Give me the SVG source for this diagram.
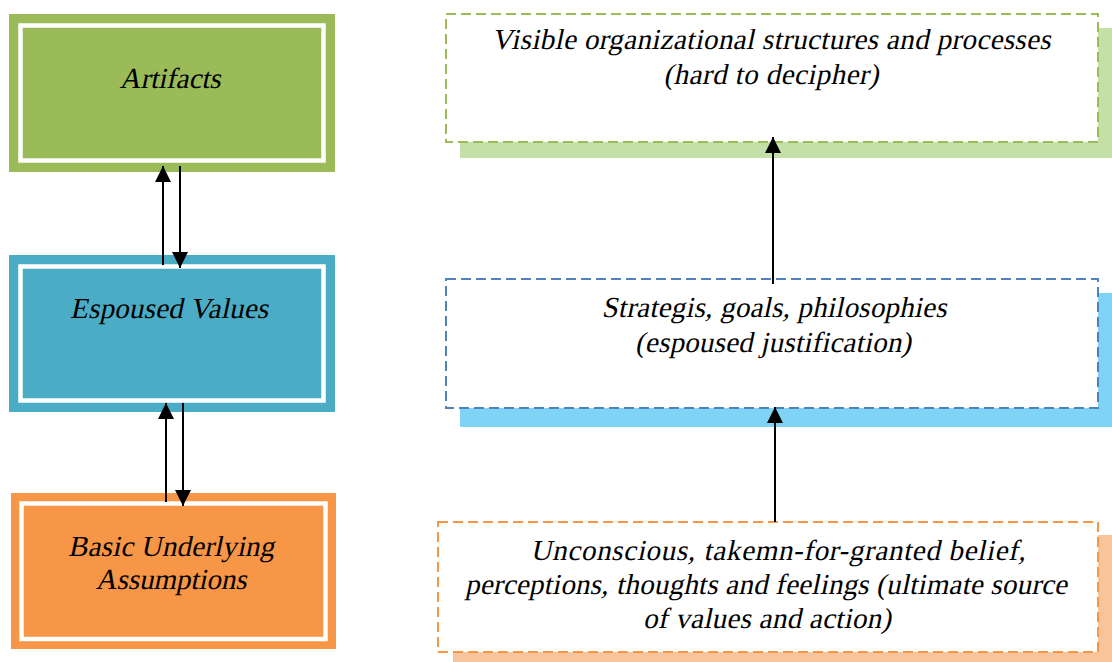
<svg xmlns="http://www.w3.org/2000/svg" width="1112" height="662" viewBox="0 0 1112 662">
  <defs>
    <marker id="head" viewBox="0 0 16 16" refX="16" refY="8" markerWidth="16" markerHeight="16" markerUnits="userSpaceOnUse" orient="auto">
      <path d="M0,0 L16,8 L0,16 Z" fill="#000"/>
    </marker>
    <style>
      /* serif labels, slanted by a skew so they read as italic */
      .lbl { font-family: 'Liberation Serif', 'Times New Roman', serif; font-style: normal; font-size: 29px; fill: #000; text-anchor: middle; }
      .inner { fill: none; stroke: #fff; stroke-width: 4.5; }
      .dash { fill: #fff; stroke-width: 2; stroke-dasharray: 10 5; }
      .link { stroke: #000; stroke-width: 2; fill: none; marker-end: url(#head); }
    </style>
  </defs>
  <rect width="1112" height="662" fill="#fff"/>

  <!-- Left column: culture levels -->
  <g id="artifacts">
    <rect x="9" y="14" width="326" height="158" fill="#9bbb59"/>
    <rect class="inner" x="20.5" y="25.5" width="303" height="135"/>
    <text class="lbl" transform="translate(170 88) skewX(-12)" textLength="101">Artifacts</text>
  </g>
  <g id="espoused-values">
    <rect x="9" y="255" width="326" height="157" fill="#4bacc6"/>
    <rect class="inner" x="20.5" y="266.5" width="303" height="134"/>
    <text class="lbl" transform="translate(169 318) skewX(-12)" textLength="198">Espoused Values</text>
  </g>
  <g id="basic-assumptions">
    <rect x="11" y="493" width="325" height="156" fill="#f79646"/>
    <rect class="inner" x="21.5" y="503.5" width="304" height="135.5"/>
    <text class="lbl" transform="translate(171 556) skewX(-12)" textLength="206">Basic Underlying</text>
    <text class="lbl" transform="translate(171 589) skewX(-12)" textLength="151">Assumptions</text>
  </g>

  <!-- Right column: descriptions with offset shadows -->
  <g id="visible-structures">
    <rect x="460" y="28" width="652" height="130" fill="#c5e0a7"/>
    <rect class="dash" x="446" y="14" width="652" height="128" stroke="#9bbb59"/>
    <text class="lbl" transform="translate(771 49) skewX(-12)" textLength="559">Visible organizational structures and processes</text>
    <text class="lbl" transform="translate(771 84) skewX(-12)" textLength="215">(hard to decipher)</text>
  </g>
  <g id="strategies-goals">
    <rect x="460" y="293" width="652" height="134" fill="#7fd3f5"/>
    <rect class="dash" x="446" y="279" width="652" height="129" stroke="#4f81bd"/>
    <text class="lbl" transform="translate(774 317) skewX(-12)" textLength="345">Strategis, goals, philosophies</text>
    <text class="lbl" transform="translate(773 352) skewX(-12)" textLength="276">(espoused justification)</text>
  </g>
  <g id="unconscious-beliefs">
    <rect x="453" y="535" width="659" height="140" fill="#f8c49b"/>
    <rect class="dash" x="438" y="522" width="660" height="130" stroke="#f79646"/>
    <text class="lbl" transform="translate(778 560) skewX(-12)" textLength="495">Unconscious, takemn-for-granted belief,</text>
    <text class="lbl" transform="translate(766 594) skewX(-12)" textLength="602">perceptions, thoughts and feelings (ultimate source</text>
    <text class="lbl" transform="translate(767 628) skewX(-12)" textLength="248">of values and action)</text>
  </g>

  <!-- Connectors -->
  <g id="connectors">
    <line class="link" x1="163" y1="265" x2="163" y2="166"/>
    <line class="link" x1="180" y1="166" x2="180" y2="268"/>
    <line class="link" x1="166" y1="502" x2="166" y2="403"/>
    <line class="link" x1="183" y1="403" x2="183" y2="506"/>
    <line class="link" x1="773" y1="284" x2="773" y2="137"/>
    <line class="link" x1="775" y1="522" x2="775" y2="407"/>
  </g>
</svg>
